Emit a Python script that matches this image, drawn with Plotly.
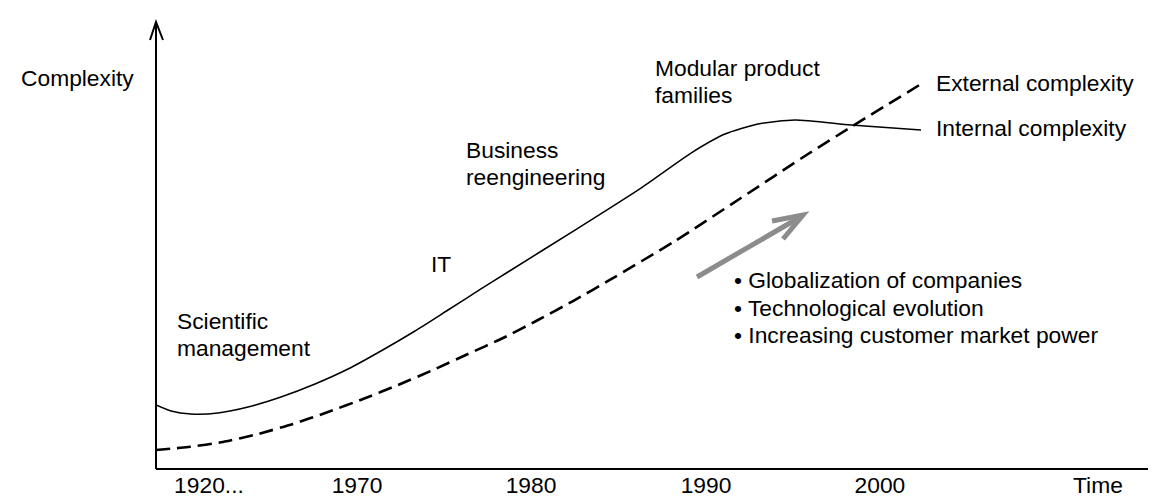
import plotly.graph_objects as go

# ---- data (arbitrary units: time position 0-100, complexity 0-100) ----
internal_time = [0, 1.49, 3.48, 6.16, 9.14, 12.41, 15.79, 19.07, 22.34, 25.72, 29.00,
                 32.27, 34.95, 41.61, 48.16, 53.13, 56.50, 59.78, 63.45, 69.01, 75.97]
internal_complexity = [14.32, 12.97, 12.30, 12.53, 13.87, 16.11, 19.02, 22.37, 26.40, 30.87, 35.57,
                       40.27, 44.07, 53.46, 62.86, 70.69, 74.94, 77.18, 78.07, 76.96, 75.84]

external_time = [0, 3.18, 6.65, 10.13, 13.60, 17.08, 20.56, 24.03, 27.51, 30.98, 34.46,
                 37.93, 41.41, 44.89, 51.54, 58.09, 64.75, 69.02, 75.97]
external_complexity = [4.25, 4.92, 6.04, 7.83, 10.07, 12.75, 15.66, 18.79, 22.15, 25.73, 29.30,
                       33.33, 37.58, 42.06, 51.00, 60.62, 70.47, 76.51, 86.13]

tick_positions = [5.26, 19.96, 37.24, 54.62, 71.89, 93.54]
tick_labels = ["1920...", "1970", "1980", "1990", "2000", "Time"]

FONT = "Arial, 'Liberation Sans', sans-serif"
FS = 22.8

# plot-area geometry in pixels
L, R, T, B = 148, 1155, 14, 461
W, H = 1156, 496


def px(x):
    return (x - L) / (R - L)


def py(y):
    return (B - y) / (B - T)


fig = go.Figure()
fig.add_trace(go.Scatter(
    x=internal_time, y=internal_complexity, mode="lines",
    line=dict(color="black", width=1.5, shape="spline", smoothing=0.6),
    hoverinfo="skip", showlegend=False, name="Internal complexity"))
fig.add_trace(go.Scatter(
    x=external_time, y=external_complexity, mode="lines",
    line=dict(color="black", width=2.6, dash="14px,7px", shape="spline", smoothing=0.6),
    hoverinfo="skip", showlegend=False, name="External complexity"))

shapes = []
# axes with open arrowheads
shapes.append(dict(type="line", xref="paper", yref="paper", x0=px(148), y0=py(461), x1=px(1155), y1=py(461),
                   line=dict(color="black", width=2)))
shapes.append(dict(type="path", xref="paper", yref="paper",
                   path=f"M {px(1142)} {py(455)} L {px(1155)} {py(461)} L {px(1142)} {py(467)}",
                   line=dict(color="black", width=2)))
shapes.append(dict(type="line", xref="paper", yref="paper", x0=px(148), y0=py(461), x1=px(148), y1=py(14),
                   line=dict(color="black", width=2)))
shapes.append(dict(type="path", xref="paper", yref="paper",
                   path=f"M {px(142)} {py(32)} L {px(148)} {py(14)} L {px(155)} {py(32)}",
                   line=dict(color="black", width=2)))
# grey trend arrow
shapes.append(dict(type="line", xref="paper", yref="paper", x0=px(689), y0=py(269), x1=px(794), y1=py(208),
                   line=dict(color="#8c8c8c", width=5)))
shapes.append(dict(type="path", xref="paper", yref="paper",
                   path=f"M {px(764)} {py(213)} L {px(795)} {py(207)} L {px(775)} {py(231)}",
                   line=dict(color="#8c8c8c", width=5)))

texts = [
    ("Complexity", 12, 70),
    ("Scientific", 168, 313),
    ("management", 168, 340),
    ("IT", 422, 256),
    ("Business", 457, 142),
    ("reengineering", 457, 169),
    ("Modular product", 646, 60),
    ("families", 646, 87),
    ("External complexity", 927, 75),
    ("Internal complexity", 927, 120),
    ("• Globalization of companies", 725, 272),
    ("• Technological evolution", 725, 300),
    ("• Increasing customer market power", 725, 327),
]
annotations = []
for t, x, y in texts:
    annotations.append(dict(text=t, xref="paper", yref="paper", x=px(x), y=py(y),
                            xanchor="left", yanchor="middle", showarrow=False,
                            borderpad=0, font=dict(family=FONT, size=FS, color="black")))

fig.update_layout(
    width=W, height=H, autosize=False,
    margin=dict(l=L, r=W - R, t=T, b=H - B, pad=0),
    paper_bgcolor="white", plot_bgcolor="white",
    shapes=shapes, annotations=annotations,
    font=dict(family=FONT, size=FS, color="black"),
    xaxis=dict(range=[0, 100], tickvals=tick_positions, ticktext=tick_labels,
               showgrid=False, zeroline=False, showline=False, ticks="",
               tickfont=dict(family=FONT, size=FS, color="black"), fixedrange=True),
    yaxis=dict(range=[0, 100], showgrid=False, zeroline=False, showline=False,
               showticklabels=False, ticks="", fixedrange=True),
    hovermode=False,
)

fig.write_html("out.html", config={"displayModeBar": False})
